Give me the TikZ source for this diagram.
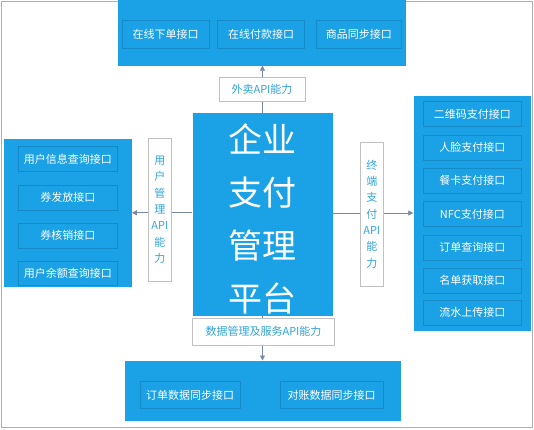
\documentclass[tikz,border=0pt]{standalone}
\usepackage{fontspec}
\newfontfamily\cjk{Noto Sans CJK SC}
\usetikzlibrary{arrows.meta}
\definecolor{mblue}{RGB}{27,161,230}
\definecolor{iborder}{RGB}{20,138,200}
\definecolor{lbltext}{RGB}{52,163,222}
\definecolor{lblborder}{RGB}{192,192,192}
\definecolor{arrowc}{RGB}{118,138,168}
\definecolor{framec}{RGB}{175,175,175}
\tikzset{
  blk/.style={fill=mblue, draw=none, inner sep=0pt},
  ibox/.style={fill=mblue, draw=iborder, line width=0.7pt, inner sep=0pt, text=white,
    font=\cjk\fontsize{11}{13}\selectfont},
  lbl/.style={fill=white, draw=lblborder, line width=0.8pt, inner sep=0pt, text=lbltext,
    font=\cjk\fontsize{11}{13}\selectfont},
  vlbl/.style={lbl, align=center, font=\cjk\fontsize{11}{16.3}\selectfont},
  arr/.style={draw=arrowc, line width=0.8pt, -{Triangle[length=5pt,width=5pt]}},
  bigtext/.style={text=white, align=center, inner sep=0pt, font=\cjk\fontsize{34}{53}\selectfont}
}
\begin{document}
\begin{tikzpicture}[x=1pt,y=-1pt]
\useasboundingbox (0,0) rectangle (534,429);
\fill[white] (0,0) rectangle (534,429);
\draw[framec, line width=1pt] (1,1) rectangle (532.5,427.3);

% top group
\node[blk, minimum width=288.5pt, minimum height=66pt] (top) at (261.75,32.5) {};
\node[ibox, minimum width=87pt, minimum height=27.5pt] (t1) at (165.5,34.25) {在线下单接口};
\node[ibox, minimum width=87pt, minimum height=27.5pt] (t2) at (261,34.25) {在线付款接口};
\node[ibox, minimum width=84.5pt, minimum height=27.5pt] (t3) at (358.75,34.25) {商品同步接口};

% main box
\node[blk, minimum width=140pt, minimum height=203pt] (main) at (262.5,214.5) {};
\node[bigtext] (maintext) at (262.5,218.5) {企业\\支付\\管理\\平台};

% left group
\node[blk, minimum width=127.7pt, minimum height=148.5pt] (lbox) at (67.85,212.75) {};
\node[ibox, minimum width=99pt, minimum height=25pt] (l1) at (67.8,159.2) {用户信息查询接口};
\node[ibox, minimum width=99pt, minimum height=25pt] (l2) at (67.8,197.5) {券发放接口};
\node[ibox, minimum width=99pt, minimum height=25pt] (l3) at (67.8,235.8) {券核销接口};
\node[ibox, minimum width=99pt, minimum height=24pt] (l4) at (67.8,273.3) {用户余额查询接口};

% right group
\node[blk, minimum width=117pt, minimum height=235pt] (rbox) at (472,213) {};
\node[ibox, minimum width=98.7pt, minimum height=25pt] (r1) at (472.35,114.2) {二维码支付接口};
\node[ibox, minimum width=98.7pt, minimum height=25pt] (r2) at (472.35,147.5) {人脸支付接口};
\node[ibox, minimum width=98.7pt, minimum height=25pt] (r3) at (472.35,180.5) {餐卡支付接口};
\node[ibox, minimum width=98.7pt, minimum height=25pt] (r4) at (472.35,214.2) {NFC支付接口};
\node[ibox, minimum width=98.7pt, minimum height=25pt] (r5) at (472.35,247.5) {订单查询接口};
\node[ibox, minimum width=98.7pt, minimum height=25pt] (r6) at (472.35,280.5) {名单获取接口};
\node[ibox, minimum width=98.7pt, minimum height=25pt] (r7) at (472.35,312.5) {流水上传接口};

% bottom group
\node[blk, minimum width=276pt, minimum height=60.3pt] (bbox) at (263,390.85) {};
\node[ibox, minimum width=100pt, minimum height=26.6pt] (b1) at (190,395) {订单数据同步接口};
\node[ibox, minimum width=103.3pt, minimum height=26.6pt] (b2) at (331.65,395) {对账数据同步接口};

% connectors
\draw[arr] (main.north) -- (main.north |- top.south);
\draw[arr] (lbox.east -| main.west) -- (lbox.east);
\draw[arr] (rbox.west -| main.east) -- (rbox.west);
\draw[arr] (main.south) -- (main.south |- bbox.north);

% labels
\node[lbl, minimum width=86pt, minimum height=24pt] (ltop) at (262,89) {外卖API能力};
\node[vlbl, minimum width=23.7pt, minimum height=142.5pt] (lleft) at (159.85,209.75) {用\\户\\管\\理\\API\\能\\力};
\node[vlbl, minimum width=23.5pt, minimum height=144pt] (lright) at (371.75,214) {终\\端\\支\\付\\API\\能\\力};
\node[lbl, minimum width=142pt, minimum height=26.5pt] (lbot) at (263.5,331.75) {数据管理及服务API能力};
\end{tikzpicture}
\end{document}
